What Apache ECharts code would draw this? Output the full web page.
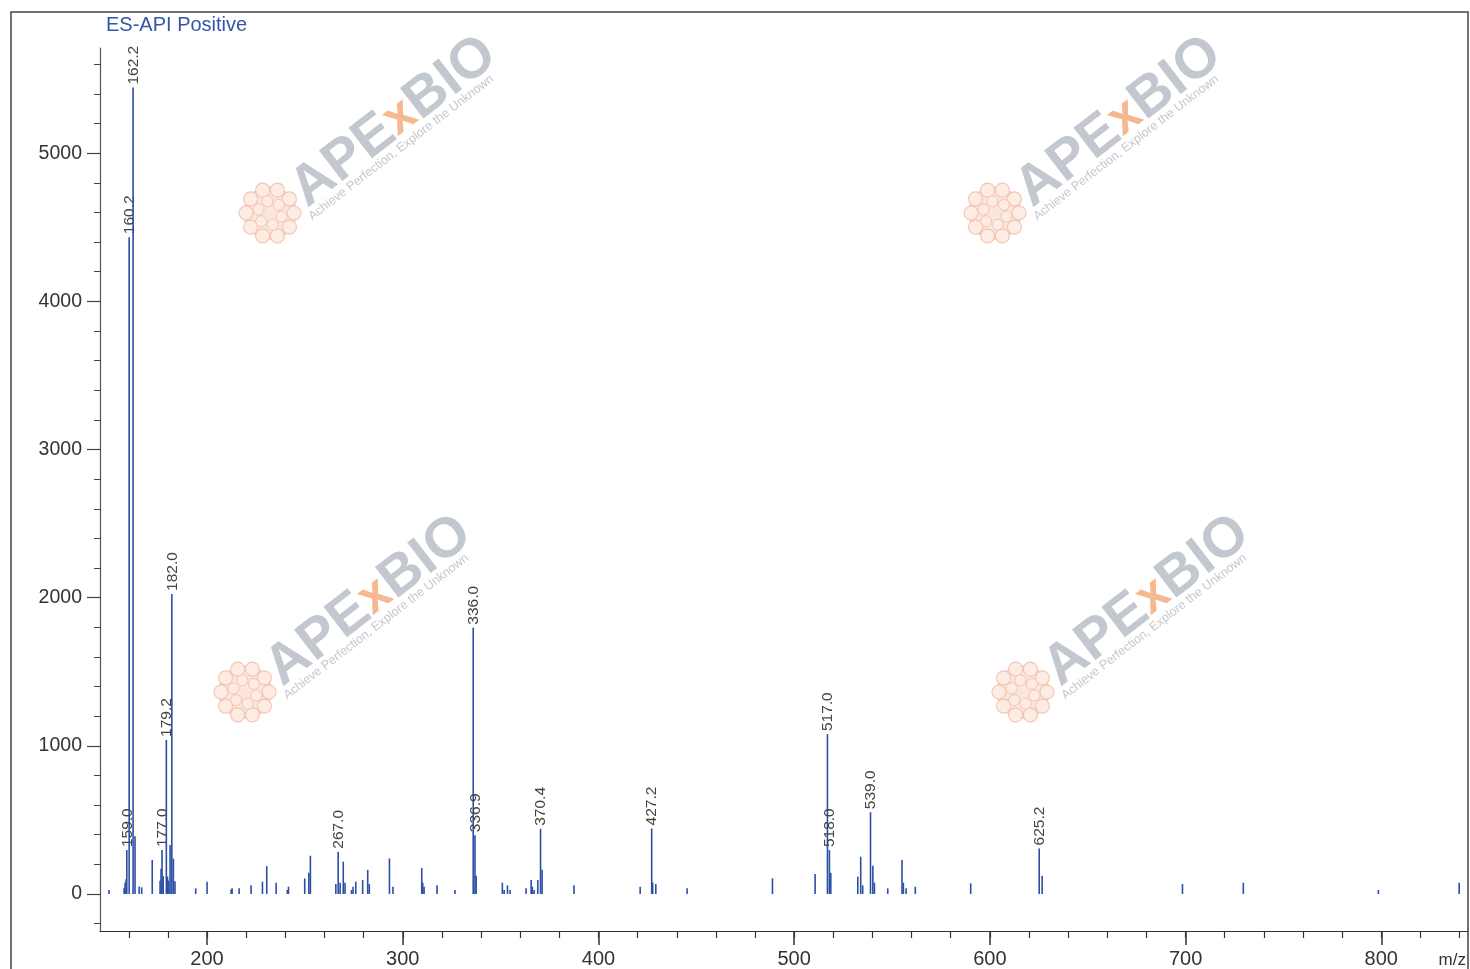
<!DOCTYPE html>
<html>
<head>
<meta charset="utf-8">
<script src="https://cdn.jsdelivr.net/npm/echarts@6/dist/echarts.min.js"></script>
<style>
html,body{margin:0;padding:0;background:#fff;}
#chart{width:1470px;height:969px;}
</style>
</head>
<body>
<div id="chart"></div>
<script>
// ---- data ----
const mzValues = [
  149.9, 157.6, 158.1, 158.6, 159.0, 160.2, 162.2, 163.2, 165.3, 166.6,
  172.0, 176.0, 176.5, 177.0, 177.6, 179.2, 179.8, 180.4, 181.1, 182.0,
  182.8, 183.6, 194.2, 200.0, 212.3, 212.8, 216.4, 222.5, 228.3, 230.5,
  235.3, 241.0, 241.6, 249.9, 252.0, 252.8, 265.8, 267.0, 268.0, 269.6,
  270.5, 273.8, 274.6, 276.0, 279.5, 282.1, 282.9, 293.2, 295.0, 309.7,
  310.2, 310.9, 317.5, 326.7, 336.0, 336.9, 337.5, 350.9, 351.8, 353.5,
  354.8, 363.0, 365.6, 366.2, 367.1, 369.0, 370.4, 371.2, 387.5, 421.3,
  427.2, 427.7, 429.3, 445.3, 488.9, 510.7, 517.0, 518.0, 518.7, 532.5,
  534.0, 535.0, 539.0, 540.2, 541.0, 547.8, 555.1, 555.8, 557.2, 561.9,
  590.2, 625.2, 626.7, 698.4, 729.5, 798.5, 839.8
];
const intensities = [
  27, 38, 76, 100, 296, 4433, 5443, 390, 50, 45,
  229, 90, 170, 296, 120, 1040, 117, 90, 330, 2025,
  238, 85, 38, 83, 30, 38, 38, 58, 83, 188,
  76, 27, 49, 105, 143, 258, 67, 285, 76, 218,
  76, 27, 49, 83, 94, 163, 67, 240, 49, 175,
  76, 49, 58, 27, 1797, 397, 123, 76, 27, 58,
  27, 38, 94, 49, 27, 94, 440, 163, 58, 49,
  442, 76, 67, 38, 105, 135, 1079, 296, 143, 117,
  251, 58, 552, 190, 76, 38, 229, 76, 38, 49,
  72, 307, 123, 67, 76, 27, 76
];
const labeledMz = [159.0, 160.2, 162.2, 177.0, 179.2, 182.0, 267.0, 336.0, 336.9, 370.4, 427.2, 517.0, 518.0, 539.0, 625.2];
const xLabelValues = [200, 300, 400, 500, 600, 700, 800];
const xMinorValues = [160,180,200,220,240,260,280,300,320,340,360,380,400,420,440,460,480,500,520,540,560,580,600,620,640,660,680,700,720,740,760,780,800,820,840];
const yLabelValues = [0, 1000, 2000, 3000, 4000, 5000];
const yMinorValues = [-200,0,200,400,600,800,1000,1200,1400,1600,1800,2000,2200,2400,2600,2800,3000,3200,3400,3600,3800,4000,4200,4400,4600,4800,5000,5200,5400,5600];
const titleText = 'ES-API Positive';
const xUnitText = 'm/z';

// ---- chart ----
const FONT = '"Liberation Sans", Arial, sans-serif';
const BAR = '#2b4fa6';
const chart = echarts.init(document.getElementById('chart'), null, {renderer: 'canvas'});

const peakData = mzValues.map((m, i) => [m, intensities[i]]);

function renderPeak(params, api) {
  const m = api.value(0), h = api.value(1);
  const top = api.coord([m, h]);
  const base = api.coord([m, 0]);
  const children = [{
    type: 'rect',
    shape: {x: top[0] - 0.8, y: top[1], width: 1.6, height: base[1] - top[1]},
    style: {fill: BAR}
  }];
  if (labeledMz.indexOf(m) >= 0) {
    children.push({
      type: 'text',
      x: top[0] + 0.5, y: top[1] - 3,
      rotation: Math.PI / 2,
      style: {text: m.toFixed(1), align: 'left', verticalAlign: 'middle',
              font: '15.5px ' + FONT, fill: '#444'}
    });
  }
  return {type: 'group', children: children};
}

function logo(fx, fy) {
  const ang = 37.6 * Math.PI / 180;
  const els = [];
  // flower
  els.push({type: 'circle', shape: {cx: fx, cy: fy, r: 26}, style: {fill: '#fbe6dc', stroke: '#f3c7b2', lineWidth: 1.5}, z: -10});
  for (let k = 0; k < 10; k++) {
    const a = k * Math.PI * 2 / 10;
    els.push({type: 'circle', shape: {cx: fx + 24 * Math.cos(a), cy: fy + 24 * Math.sin(a), r: 7},
      style: {fill: '#fdece4', stroke: '#f3c5b0', lineWidth: 1.1}, z: -10});
  }
  for (let k = 0; k < 6; k++) {
    const a = k * Math.PI * 2 / 6 + 0.3;
    els.push({type: 'circle', shape: {cx: fx + 12 * Math.cos(a), cy: fy + 12 * Math.sin(a), r: 5.5},
      style: {fill: '#fdece4', stroke: '#f3c5b0', lineWidth: 1}, z: -10});
  }
  // text
  els.push({
    type: 'text', x: fx + 45, y: fy + 5, rotation: ang, z: -10,
    style: {
      text: '{g|APE}{o|x}{g|BIO}',
      verticalAlign: 'bottom', align: 'left',
      rich: {
        g: {font: 'bold 56px ' + FONT, fill: '#c3c7cf'},
        o: {font: 'bold 50px ' + FONT, fill: '#f5b88f'}
      }
    }
  });
  els.push({
    type: 'text', x: fx + 44, y: fy + 10, rotation: ang, z: -10,
    style: {text: 'Achieve Perfection, Explore the Unknown', verticalAlign: 'bottom', align: 'left',
      font: '12.5px ' + FONT, fill: '#c4c7cf'}
  });
  return els;
}

const graphics = [
  {type: 'rect', shape: {x: 11, y: 12, width: 1457, height: 980}, style: {fill: 'none', stroke: '#444', lineWidth: 1.5}, z: 100},
  {type: 'text', x: 106, y: 25, style: {text: titleText, font: '20px ' + FONT, fill: '#3556a8', verticalAlign: 'middle', align: 'left'}},
  {type: 'text', x: 1466, y: 960, style: {text: xUnitText, font: '17px ' + FONT, fill: '#333', verticalAlign: 'middle', align: 'right'}}
].concat(logo(270, 213), logo(995, 213), logo(245, 692), logo(1023, 692));

const option = {
  backgroundColor: '#fff',
  animation: false,
  grid: {left: 100, right: 2, top: 48, bottom: 35, containLabel: false},
  xAxis: [{
    type: 'value', min: 145.3, max: 844.3,
    axisLine: {show: true, onZero: false, lineStyle: {color: '#333', width: 1.2}},
    axisTick: {show: true, customValues: xLabelValues, length: 14, lineStyle: {color: '#333', width: 1.5}},
    axisLabel: {show: true, customValues: xLabelValues, margin: 18, fontSize: 20, fontFamily: FONT, color: '#333',
      formatter: v => String(v)},
    splitLine: {show: false}
  }, {
    type: 'value', min: 145.3, max: 844.3, position: 'bottom',
    axisLine: {show: false, onZero: false},
    axisTick: {show: true, customValues: xMinorValues, length: 7, lineStyle: {color: '#333', width: 1.2}},
    axisLabel: {show: false},
    splitLine: {show: false}
  }],
  yAxis: [{
    type: 'value', min: -250, max: 5710,
    axisLine: {show: true, onZero: false, lineStyle: {color: '#555', width: 1.2}},
    axisTick: {show: true, customValues: yLabelValues, length: 13, lineStyle: {color: '#444', width: 1.2}},
    axisLabel: {show: true, customValues: yLabelValues, margin: 18, fontSize: 19.5, fontFamily: FONT, color: '#333',
      formatter: v => String(v)},
    splitLine: {show: false}
  }, {
    type: 'value', min: -250, max: 5710, position: 'left',
    axisLine: {show: false, onZero: false},
    axisTick: {show: true, customValues: yMinorValues, length: 6, lineStyle: {color: '#444', width: 1}},
    axisLabel: {show: false},
    splitLine: {show: false}
  }],
  graphic: graphics,
  series: [{
    type: 'custom',
    xAxisIndex: 0, yAxisIndex: 0,
    renderItem: renderPeak,
    data: peakData,
    clip: false,
    z: 10
  }]
};
chart.setOption(option);
</script>
</body>
</html>
